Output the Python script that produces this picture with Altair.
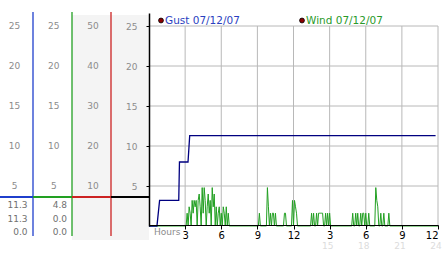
import altair as alt
import pandas as pd

# ---------------- data ----------------
hour_ticks = [3, 6, 9, 12, 15, 18, 21, 24]
value_ticks = [5, 10, 15, 20, 25]
dir_ticks = [10, 20, 30, 40, 50]
late_hours = [15, 18, 21, 24]

gust_hours = [0.0, 0.66, 0.88, 2.47, 2.53, 3.24, 3.38, 23.8]
gust_values = [0.0, 0.0, 3.2, 3.2, 8.0, 8.0, 11.3, 11.3]

# wind: 5-minute slots (slot k = k*5 min) that were not calm, and their speeds
wind_slots = [38, 40, 41, 43, 44, 45, 46, 47, 49, 50, 51, 53, 54, 55, 56, 58, 59, 60,
              61, 63, 64, 65, 67, 69, 70, 72, 74, 75, 77, 79,
              110, 118, 119, 121, 123, 124, 126, 135, 136, 143, 145, 146, 147,
              162, 164, 167, 169, 170, 171, 172, 173, 176, 178, 180,
              203, 206, 208, 211, 213, 214, 216, 219, 226, 227, 228, 231, 234, 239]
wind_values = [1.6, 2.4, 1.6, 3.2, 1.6, 3.2, 2.4, 3.2, 3.2, 4.0, 2.4, 4.8, 1.6, 4.8, 3.2, 2.4, 4.0, 1.6,
               3.2, 4.8, 2.4, 4.0, 2.4, 1.6, 2.4, 1.6, 2.4, 1.6, 2.4, 1.6,
               1.6, 4.8, 2.4, 1.6, 1.6, 1.6, 1.6, 1.6, 1.6, 3.2, 3.2, 2.4, 1.6,
               1.6, 1.6, 1.6, 1.6, 1.6, 1.6, 1.6, 1.6, 1.6, 1.6, 1.6,
               1.6, 1.6, 1.6, 1.6, 1.6, 1.6, 1.6, 1.6, 4.8, 3.2, 2.4, 1.6, 1.6, 1.6]
n_slots = 289

stat_rows = ["max", "now", "min"]
gust_stats = ["11.3", "11.3", "0.0"]
wind_stats = ["4.8", "0.0", "0.0"]

# ---------------- tables ----------------
wind_map = dict(zip(wind_slots, wind_values))
df_wind = pd.DataFrame({"h": [k / 12 for k in range(n_slots)],
                        "v": [wind_map.get(k, 0.0) for k in range(n_slots)]})
df_gust = pd.DataFrame({"h": gust_hours, "v": gust_values})
df_vgrid = pd.DataFrame({"h": hour_ticks, "lo": 0, "hi": 25})
df_hgrid = pd.DataFrame({"v": value_ticks, "lo": 0, "hi": 24})
df_cols = pd.DataFrame({"col": ["gust"] * 5 + ["wind"] * 5,
                        "v": value_ticks * 2,
                        "label": [str(v) for v in value_ticks] * 2})
df_dir = pd.DataFrame({"col": ["dir"] * 5, "v": dir_ticks, "label": [str(v) for v in dir_ticks]})
df_stats = pd.DataFrame({"col": ["gust"] * 3 + ["wind"] * 3,
                         "row": stat_rows * 2,
                         "label": gust_stats + wind_stats})
df_late = pd.DataFrame({"h": late_hours, "label": [str(h) for h in late_hours]})
one = pd.DataFrame({"a": [0]})

FONT = "DejaVu Sans"
BLUE = "#1f3fcc"
GREEN = "#22a022"
RED = "#cc2222"

x_main = alt.Scale(domain=[0, 24], range=[149, 438], nice=False, zero=False)
y_main = alt.Scale(domain=[0, 26.625], range=[226, 13], nice=False, zero=False)
y_dir = alt.Scale(domain=[0, 53.25], range=[226, 13], nice=False, zero=False)
col_scale = alt.Scale(type="point", domain=["gust", "wind", "dir"], range=[14.5, 93], padding=0)
stat_x = alt.Scale(type="point", domain=["gust", "wind"], range=[27.5, 67], padding=0)
row_scale = alt.Scale(type="point", domain=stat_rows, range=[205, 232], padding=0)

layers = []

# grey background of the two right-hand side columns
layers.append(alt.Chart(one).mark_rect(color="#f4f4f4").encode(
    x=alt.value(72), x2=alt.value(149), y=alt.value(15), y2=alt.value(240)))

# column separators
for xv, c in [(33, BLUE), (72, GREEN), (111, RED)]:
    layers.append(alt.Chart(one).mark_rule(color=c, strokeWidth=1.3).encode(
        x=alt.value(xv), y=alt.value(12), y2=alt.value(236)))
for x0, x1, c in [(0, 33, BLUE), (33, 72, GREEN), (72, 111, RED), (111, 149, "black")]:
    layers.append(alt.Chart(one).mark_rule(color=c, strokeWidth=2).encode(
        x=alt.value(x0), x2=alt.value(x1), y=alt.value(197)))

# grid + axes
x_axis = alt.Axis(values=hour_ticks, orient="bottom", offset=-28, grid=False,
                  labelExpr="datum.value > 12 ? datum.value - 12 : datum.value",
                  domainColor="black", domainWidth=1, tickColor="black", tickSize=4,
                  tickWidth=1, labelFontSize=10, labelColor="black", labelPadding=1,
                  labelFont=FONT, title=None, labelFlush=True, labelOverlap=False,
                  zindex=1)
y_axis = alt.Axis(values=value_ticks, orient="left", offset=-149, grid=False,
                  domainColor="black", domainWidth=1.5, tickColor="black", tickSize=3,
                  labelFontSize=9, labelColor="#8c8c8c", labelPadding=9, labelFont=FONT,
                  title=None, zindex=1)
layers.append(alt.Chart(df_vgrid).mark_rule(color="#b8b8b8", strokeWidth=1).encode(
    x=alt.X("h:Q", scale=x_main, axis=x_axis),
    y=alt.Y("lo:Q", scale=y_main, axis=y_axis), y2="hi:Q"))
layers.append(alt.Chart(df_hgrid).mark_rule(color="#b8b8b8", strokeWidth=1).encode(
    y=alt.Y("v:Q", scale=y_main, axis=None),
    x=alt.X("lo:Q", scale=x_main, axis=None), x2="hi:Q"))

# series
layers.append(alt.Chart(df_wind).mark_line(color=GREEN, strokeWidth=1).encode(
    x=alt.X("h:Q", scale=x_main, axis=None), y=alt.Y("v:Q", scale=y_main, axis=None)))
layers.append(alt.Chart(df_gust).mark_line(color="#000080", strokeWidth=1.3).encode(
    x=alt.X("h:Q", scale=x_main, axis=None), y=alt.Y("v:Q", scale=y_main, axis=None)))

# left column scale labels
layers.append(alt.Chart(df_cols).mark_text(fontSize=9, color="#8c8c8c", font=FONT).encode(
    x=alt.X("col:N", scale=col_scale, axis=None),
    y=alt.Y("v:Q", scale=y_main, axis=None), text="label:N"))
layers.append(alt.Chart(df_dir).mark_text(fontSize=9, color="#8c8c8c", font=FONT).encode(
    x=alt.X("col:N", scale=col_scale, axis=None),
    y=alt.Y("v:Q", scale=y_dir, axis=None), text="label:N"))
layers.append(alt.Chart(df_stats).mark_text(fontSize=9, color="#707070", font=FONT,
                                            align="right").encode(
    x=alt.X("col:N", scale=stat_x, axis=None),
    y=alt.Y("row:N", scale=row_scale, axis=None), text="label:N"))

# legend
for xv, label, c in [(161, "Gust 07/12/07", "#2b3fbf"), (302, "Wind 07/12/07", "#2a9a2a")]:
    layers.append(alt.Chart(one).mark_point(filled=True, fill="#8b0000", stroke="black",
                                            strokeWidth=0.8, size=24, opacity=1).encode(
        x=alt.value(xv), y=alt.value(20.5)))
    layers.append(alt.Chart(one).mark_text(fontSize=10.5, color=c, font=FONT, align="left").encode(
        x=alt.value(xv + 4), y=alt.value(20.5), text=alt.value(label)))

# hours caption and faint 24h labels
layers.append(alt.Chart(one).mark_text(fontSize=9, color="#8c8c8c", font=FONT, align="left").encode(
    x=alt.value(154), y=alt.value(232), text=alt.value("Hours")))
layers.append(alt.Chart(df_late).mark_text(fontSize=9, color="#dcdcdc", font=FONT, dx=-2).encode(
    x=alt.X("h:Q", scale=x_main, axis=None), y=alt.value(246), text="label:N"))

chart = alt.layer(*layers).resolve_scale(x="independent", y="independent").properties(
    width=442, height=253, padding=0, autosize="none", background="white"
).configure_view(stroke=None)

chart.save("out.html", embed_options={"renderer": "svg", "actions": False})
